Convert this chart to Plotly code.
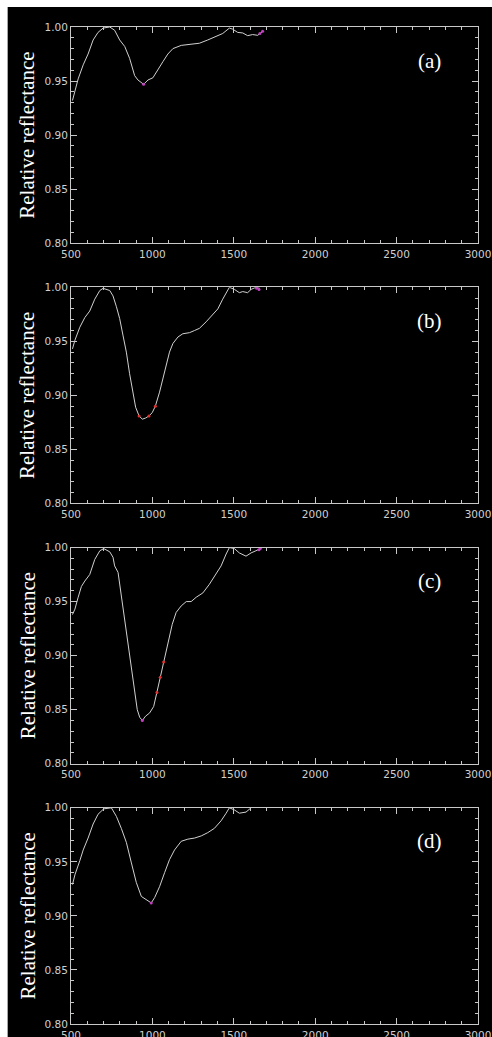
import plotly.graph_objects as go

# ---------------- data ----------------
wl_a = [509, 524, 544, 575, 605, 636, 666, 697, 738, 768, 799, 830, 860, 891, 911, 946, 973, 1003,
        1034, 1065, 1095, 1126, 1177, 1228, 1289, 1340, 1381, 1432, 1473, 1493, 1524, 1555, 1585,
        1616, 1647, 1677]
refl_a = [0.932, 0.941, 0.952, 0.965, 0.975, 0.988, 0.995, 0.999, 1.000, 0.997, 0.988, 0.982, 0.971,
          0.955, 0.951, 0.947, 0.951, 0.953, 0.961, 0.968, 0.975, 0.980, 0.983, 0.984, 0.985, 0.988,
          0.991, 0.994, 0.999, 0.998, 0.995, 0.9945, 0.992, 0.993, 0.9923, 0.996]

wl_b = [509, 524, 554, 585, 615, 646, 677, 697, 738, 758, 779, 799, 820, 840, 860, 881, 897, 918,
        938, 958, 979, 999, 1018, 1044, 1075, 1105, 1126, 1157, 1187, 1228, 1259, 1289, 1330, 1371,
        1402, 1432, 1453, 1473, 1504, 1534, 1555, 1585, 1606, 1636, 1660]
refl_b = [0.943, 0.951, 0.963, 0.972, 0.978, 0.989, 0.997, 0.999, 0.997, 0.992, 0.982, 0.971, 0.955,
          0.940, 0.920, 0.901, 0.889, 0.881, 0.878, 0.879, 0.881, 0.884, 0.890, 0.903, 0.921, 0.940,
          0.948, 0.954, 0.957, 0.958, 0.960, 0.962, 0.968, 0.975, 0.980, 0.989, 0.995, 1.000, 0.998,
          0.995, 0.996, 0.995, 0.998, 1.000, 0.999]

wl_c = [509, 524, 544, 564, 585, 615, 646, 677, 701, 738, 758, 768, 789, 809, 830, 850, 871, 891,
        907, 922, 938, 958, 983, 1008, 1028, 1048, 1069, 1095, 1122, 1146, 1177, 1208, 1238, 1269,
        1310, 1350, 1391, 1422, 1453, 1473, 1504, 1534, 1575, 1606, 1636, 1663]
refl_c = [0.938, 0.943, 0.954, 0.964, 0.969, 0.975, 0.989, 0.997, 0.999, 0.996, 0.991, 0.983, 0.977,
          0.955, 0.937, 0.915, 0.890, 0.866, 0.850, 0.843, 0.840, 0.844, 0.847, 0.853, 0.866, 0.880,
          0.894, 0.912, 0.929, 0.940, 0.946, 0.950, 0.950, 0.954, 0.958, 0.966, 0.975, 0.983, 0.994,
          1.000, 0.999, 0.995, 0.992, 0.995, 0.997, 0.999]

wl_d = [509, 524, 554, 575, 605, 636, 666, 701, 748, 779, 809, 840, 871, 901, 932, 962, 993, 1014,
        1044, 1075, 1105, 1136, 1177, 1218, 1259, 1300, 1340, 1381, 1422, 1453, 1473, 1504, 1534,
        1575, 1606]
refl_d = [0.929, 0.938, 0.951, 0.961, 0.972, 0.985, 0.994, 0.999, 1.000, 0.992, 0.981, 0.968, 0.949,
          0.931, 0.918, 0.915, 0.912, 0.917, 0.927, 0.940, 0.952, 0.961, 0.969, 0.971, 0.972, 0.974,
          0.977, 0.981, 0.988, 0.995, 1.000, 0.998, 0.995, 0.996, 1.000]

# highlighted band points (magenta = band minimum / end, red = band shoulders)
mag_a_x = [946, 1660, 1677]
mag_a_y = [0.947, 0.994, 0.996]
red_a_x, red_a_y = [], []
mag_b_x = [1640, 1655]
mag_b_y = [0.999, 0.998]
red_b_x = [918, 979, 1018]
red_b_y = [0.881, 0.881, 0.890]
mag_c_x = [938, 1655, 1663]
mag_c_y = [0.840, 0.998, 0.999]
red_c_x = [1028, 1048, 1069]
red_c_y = [0.866, 0.880, 0.894]
mag_d_x = [993]
mag_d_y = [0.912]
red_d_x, red_d_y = [], []

panel_labels = ["(a)", "(b)", "(c)", "(d)"]
x_ticks = [500, 1000, 1500, 2000, 2500, 3000]
y_ticks = [0.80, 0.85, 0.90, 0.95, 1.00]

series = [
    (wl_a, refl_a, mag_a_x, mag_a_y, red_a_x, red_a_y),
    (wl_b, refl_b, mag_b_x, mag_b_y, red_b_x, red_b_y),
    (wl_c, refl_c, mag_c_x, mag_c_y, red_c_x, red_c_y),
    (wl_d, refl_d, mag_d_x, mag_d_y, red_d_x, red_d_y),
]

# ---------------- layout geometry ----------------
# the page is captured slightly reduced, so the figure is laid out a bit larger
W, H = 502.5, 1053
KX, KY = W / 492, H / 1037
ML = 69.5 * KX
MR = W - 477.5 * KX
MT = 27 * KY
MB = H - 1023 * KY
plot_h = H - MT - MB
pw = W - ML - MR
panel_tops = [t * KY for t in (27, 287, 547, 807)]
panel_h = 216 * KY

AX = "#c8c8c8"
CURVE = "#d0d0d0"
tickfont = dict(family="DejaVu Sans", size=10.5, color="#d0d0d0")
serif = "Liberation Serif"

fig = go.Figure()
layout = dict(
    width=W, height=H,
    margin=dict(l=ML, r=MR, t=MT, b=MB, pad=0),
    paper_bgcolor="black", plot_bgcolor="black",
    showlegend=False,
    annotations=[], shapes=[],
)

for i, (wx, wy, mx, my, rx, ry) in enumerate(series):
    n = "" if i == 0 else str(i + 1)
    xa, ya = "x" + n, "y" + n
    fig.add_trace(go.Scatter(x=wx, y=wy, mode="lines", xaxis=xa, yaxis=ya,
                             line=dict(color=CURVE, width=1), hoverinfo="skip"))
    if mx:
        fig.add_trace(go.Scatter(x=mx, y=my, mode="markers", xaxis=xa, yaxis=ya,
                                 marker=dict(color="#c040c0", size=3), hoverinfo="skip"))
    if rx:
        fig.add_trace(go.Scatter(x=rx, y=ry, mode="markers", xaxis=xa, yaxis=ya,
                                 marker=dict(color="#e03030", size=3), hoverinfo="skip"))
    top = panel_tops[i]
    d_top = 1 - (top - MT) / plot_h
    d_bot = 1 - (top + panel_h - MT) / plot_h
    layout["xaxis" + n] = dict(
        domain=[0, 1], anchor=ya, range=[500, 3000],
        tickmode="array", tickvals=x_ticks, ticktext=[str(v) for v in x_ticks],
        ticks="inside", ticklen=6, tickcolor=AX, tickwidth=1,
        minor=dict(dtick=100, tick0=500, ticks="inside", ticklen=3, tickcolor=AX, tickwidth=1),
        showline=True, linecolor=AX, linewidth=1, mirror="allticks",
        showgrid=False, zeroline=False, tickfont=tickfont, ticklabelstandoff=1,
    )
    layout["yaxis" + n] = dict(
        domain=[d_bot, d_top], anchor=xa, range=[0.80, 1.00],
        tickmode="array", tickvals=y_ticks, ticktext=["%.2f" % v for v in y_ticks],
        ticks="inside", ticklen=6, tickcolor=AX, tickwidth=1,
        minor=dict(dtick=0.01, tick0=0.80, ticks="inside", ticklen=3, tickcolor=AX, tickwidth=1),
        showline=True, linecolor=AX, linewidth=1, mirror="allticks",
        showgrid=False, zeroline=False, tickfont=tickfont, ticklabelstandoff=0,
    )
    layout["annotations"].append(dict(
        x=2700, y=0.969, xref=xa, yref=ya, text=panel_labels[i], showarrow=False,
        font=dict(family=serif, size=21, color="white"),
        xanchor="center", yanchor="middle"))
    layout["annotations"].append(dict(
        x=(26 * KX - ML) / pw, y=(d_top + d_bot) / 2, xref="paper", yref="paper",
        text="Relative reflectance", textangle=-90, showarrow=False,
        font=dict(family=serif, size=21, color="white"),
        xanchor="center", yanchor="middle"))

# white border of the original image (top and left)
layout["shapes"].append(dict(type="rect", xref="paper", yref="paper", layer="above",
                             x0=-ML / pw - 0.02, x1=(6 * KX - ML) / pw,
                             y0=-MB / plot_h - 0.02, y1=1 + MT / plot_h + 0.02,
                             fillcolor="white", line=dict(width=0)))
layout["shapes"].append(dict(type="rect", xref="paper", yref="paper", layer="above",
                             x0=-ML / pw - 0.02, x1=1 + MR / pw + 0.02,
                             y0=1 + (MT - 7 * KY) / plot_h, y1=1 + MT / plot_h + 0.02,
                             fillcolor="white", line=dict(width=0)))

fig.update_layout(**layout)
fig.write_html(
    "out.html",
    config={"displayModeBar": False, "staticPlot": True},
    post_script=("document.body.style.margin='0';"
                 "document.body.style.background='black';"
                 "document.documentElement.style.background='black';"
                 "document.body.style.overflow='hidden';"),
)
